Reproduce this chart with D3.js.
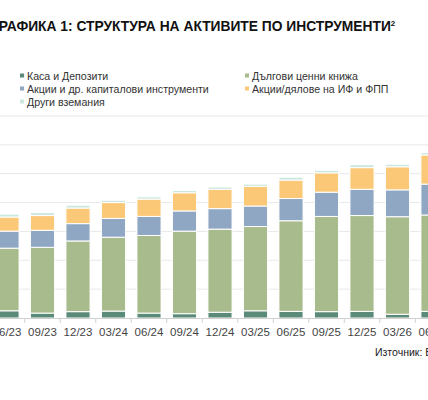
<!DOCTYPE html>
<meta charset="utf-8">
<script src="https://d3js.org/d3.v7.min.js"></script>
<style>
  body { margin: 0; background: #fff; font-family: "Liberation Sans", Arial, sans-serif; }
</style>
<body>
<svg id="chart" width="428" height="400"></svg>
</body>
<script>
var periods = ['06/23','09/23','12/23','03/24','06/24','09/24','12/24','03/25','06/25','09/25','12/25','03/26','06/26']
var cash    = [2.5, 1.7, 2.2, 2.4, 1.7, 1.5, 2.0, 2.5, 2.3, 2.2, 2.3, 1.3, 2.3]
var bonds   = [21.7, 22.8, 24.5, 25.6, 26.9, 28.6, 28.8, 29.2, 31.4, 33.0, 33.2, 33.8, 33.4]
var equity  = [5.9, 5.9, 6.0, 6.5, 6.6, 7.0, 7.1, 7.1, 7.7, 8.4, 9.1, 9.3, 10.7]
var funds   = [4.9, 5.1, 5.4, 5.5, 6.0, 6.3, 6.7, 6.8, 6.4, 6.7, 7.5, 8.0, 10.1]
var other   = [1.0, 1.0, 1.0, 0.8, 0.8, 0.8, 0.8, 0.8, 1.0, 0.9, 1.0, 0.9, 0.8]
var yTicks  = [0, 10, 20, 30, 40, 50, 60, 70]

var series = [
  {name:'Каса и Депозити', vals:cash, color:'#5b8a78'},
  {name:'Дългови ценни книжа', vals:bonds, color:'#a8bb8c'},
  {name:'Акции и др. капиталови инструменти', vals:equity, color:'#8fa7c3'},
  {name:'Акции/дялове на ИФ и ФПП', vals:funds, color:'#fbc877'},
  {name:'Други вземания', vals:other, color:'#cce7df'}
]

var svg = d3.select('#chart')

svg.append('text').attr('x', -9).attr('y', 31)
  .attr('font-size', 13.8).attr('font-weight', 'bold').attr('fill', '#111')
  .text('ГРАФИКА 1: СТРУКТУРА НА АКТИВИТЕ ПО ИНСТРУМЕНТИ')
  .append('tspan').attr('dy', -5).attr('font-size', 8).text('2')

// legend
var legPos = [[20,76],[245,76],[20,89],[245,89],[20,102]]
series.forEach(function(s, i){
  var g = svg.append('g').attr('transform', 'translate(' + legPos[i][0] + ',' + legPos[i][1] + ')')
  g.append('rect').attr('x', 0).attr('y', -2.5).attr('width', 4).attr('height', 4).attr('fill', s.color)
  g.append('text').attr('x', 7).attr('y', 4).attr('font-size', 10.6).attr('fill', '#333').text(s.name)
})

var x = d3.scaleBand().domain(periods).range([-10.75, 450.75]).paddingInner(0.32).paddingOuter(0.16)
var y = d3.scaleLinear().domain([0, 70]).range([318, 116])

svg.append('g').selectAll('line').data(yTicks.slice(1)).enter().append('line')
  .attr('x1', 0).attr('x2', 428).attr('y1', d => y(d)).attr('y2', d => y(d))
  .attr('stroke', '#e8e8e8')

var stackData = periods.map(function(p, i){
  var o = {period: p}
  series.forEach(function(s){ o[s.name] = s.vals[i] })
  return o
})
var stacked = d3.stack().keys(series.map(s => s.name))(stackData)

svg.append('g').selectAll('g').data(stacked).enter().append('g')
  .attr('fill', (d, i) => series[i].color)
  .selectAll('rect').data(d => d).enter().append('rect')
    .attr('x', d => x(d.data.period))
    .attr('width', x.bandwidth())
    .attr('y', d => y(d[1]))
    .attr('height', d => y(d[0]) - y(d[1]))
    .attr('stroke', '#fff').attr('stroke-width', 1)

// axis
svg.append('line').attr('x1', 0).attr('x2', 428).attr('y1', 318.5).attr('y2', 318.5).attr('stroke', '#d0d0d0')
var step = x.step()
svg.append('g').selectAll('line').data(periods).enter().append('line')
  .attr('x1', d => x(d) - (step - x.bandwidth()) / 2).attr('x2', d => x(d) - (step - x.bandwidth()) / 2)
  .attr('y1', 318.5).attr('y2', 323).attr('stroke', '#d0d0d0')
svg.append('g').selectAll('text').data(periods).enter().append('text')
  .attr('x', d => x(d) + x.bandwidth() / 2).attr('y', 336)
  .attr('text-anchor', 'middle').attr('font-size', 11.5).attr('fill', '#444')
  .text(d => d)

svg.append('text').attr('x', 375).attr('y', 356).attr('font-size', 10.5).attr('fill', '#222')
  .text('Източник: БНБ')
</script>
